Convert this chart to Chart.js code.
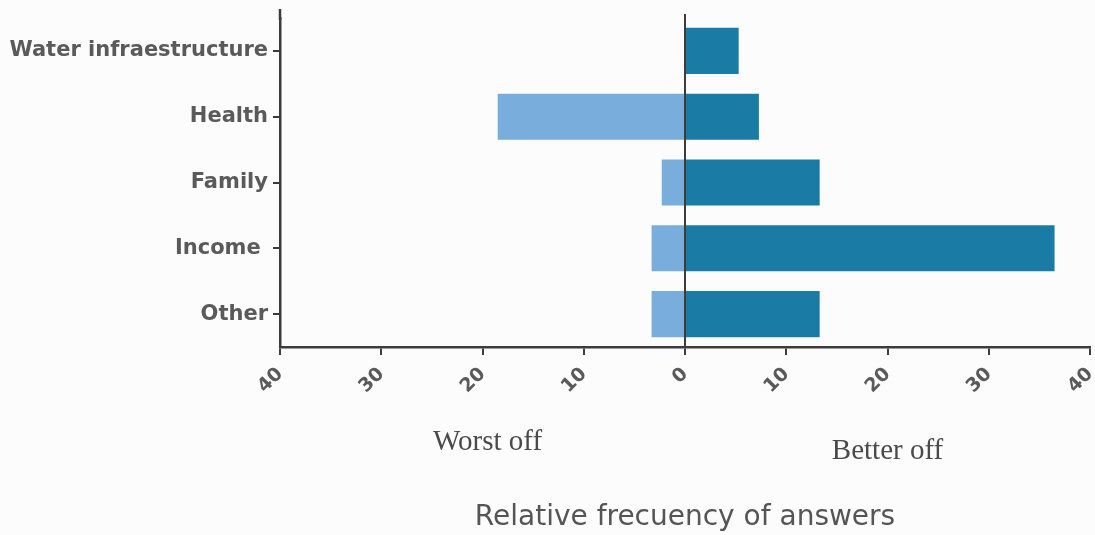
<!DOCTYPE html>
<html>
<head>
<meta charset="utf-8">
<script src="https://cdn.jsdelivr.net/npm/chart.js@4.4.1/dist/chart.umd.min.js"></script>
<style>
	html, body { margin: 0; padding: 0; background: #fcfcfc; }
	#wrap { width: 1095px; height: 535px; }
</style>
</head>
<body>
<div id="wrap"><canvas id="answersChart"></canvas></div>
<script>
const categories = ["Water infraestructure", "Health", "Family", "Income ", "Other"];
const betterOff = [5.3, 7.3, 13.3, 36.5, 13.3];
const worstOff = [0, -18.5, -2.3, -3.3, -3.3];
const sideLabels = ["Worst off", "Better off"];

const axisColor = "#3c3c3c";
const textColor = "#5a5a5a";

// zero line, top stub of the y axis, and "Worst off" / "Better off" captions
const sidePlugin = {
	id: "sideLabels",
	afterDatasetsDraw(chart) {
		const { ctx, chartArea, scales } = chart;
		const x0 = scales.x.getPixelForValue(0);
		ctx.save();
		ctx.strokeStyle = axisColor;
		ctx.lineWidth = 2;
		ctx.beginPath();
		ctx.moveTo(x0, chartArea.top - 4);
		ctx.lineTo(x0, chartArea.bottom);
		ctx.stroke();
		ctx.lineWidth = 2.5;
		ctx.beginPath();
		ctx.moveTo(chartArea.left, chartArea.top - 9);
		ctx.lineTo(chartArea.left, chartArea.top + 2);
		ctx.stroke();
		ctx.restore();
	},
	afterDraw(chart) {
		const { ctx, scales } = chart;
		ctx.save();
		ctx.font = '29px "Liberation Serif", "DejaVu Serif", serif';
		ctx.fillStyle = "#4a4a4a";
		ctx.textAlign = "center";
		ctx.textBaseline = "middle";
		ctx.fillText(sideLabels[0], scales.x.getPixelForValue(-19.5), 442);
		ctx.fillText(sideLabels[1], scales.x.getPixelForValue(20), 451);
		ctx.restore();
	},
};

new Chart(document.getElementById("answersChart"), {
	type: "bar",
	data: {
		labels: categories,
		datasets: [
			{
				label: "Worst off",
				data: worstOff,
				backgroundColor: "#79addb",
				categoryPercentage: 1,
				barPercentage: 0.7,
			},
			{
				label: "Better off",
				data: betterOff,
				backgroundColor: "#1a7ca4",
				categoryPercentage: 1,
				barPercentage: 0.7,
			},
		],
	},
	options: {
		indexAxis: "y",
		responsive: true,
		maintainAspectRatio: false,
		animation: false,
		layout: { padding: { top: 18, right: 5, bottom: 0, left: 0 } },
		scales: {
			x: {
				stacked: true,
				min: -40,
				max: 40,
				border: { display: true, color: axisColor, width: 2.5 },
				grid: {
					drawOnChartArea: false,
					drawTicks: true,
					tickLength: 8,
					color: axisColor,
					lineWidth: 2,
				},
				ticks: {
					stepSize: 10,
					minRotation: 45,
					maxRotation: 45,
					padding: 8,
					color: textColor,
					font: { family: "DejaVu Sans, sans-serif", size: 19, weight: "bold" },
					callback: (v) => Math.abs(v),
				},
				title: {
					display: true,
					text: "Relative frecuency of answers",
					color: "#555",
					font: { family: "DejaVu Sans, sans-serif", size: 28 },
					padding: { top: 0, bottom: 0 },
				},
				afterFit(scale) {
					scale.height = 188;
					scale.paddingLeft = 0;
					scale.paddingRight = 0;
				},
			},
			y: {
				stacked: true,
				border: { display: true, color: axisColor, width: 2.5 },
				grid: {
					offset: false,
					drawOnChartArea: false,
					drawTicks: true,
					tickLength: 7,
					color: axisColor,
					lineWidth: 2,
				},
				ticks: {
					padding: 5,
					color: textColor,
					font: { family: "DejaVu Sans, sans-serif", size: 21, weight: "bold" },
				},
				afterFit(scale) {
					scale.width = 280;
				},
			},
		},
		plugins: {
			legend: { display: false },
			tooltip: { enabled: false },
		},
	},
	plugins: [sidePlugin],
});
</script>
</body>
</html>
